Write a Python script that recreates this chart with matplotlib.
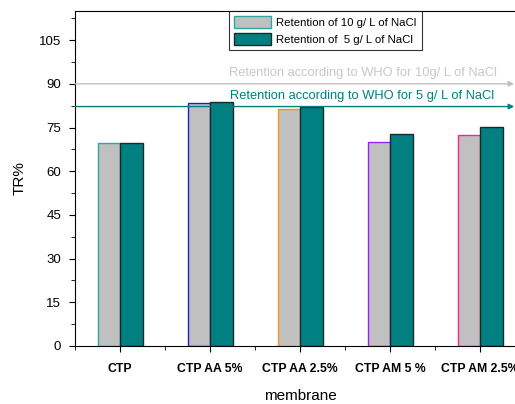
import numpy as np
import matplotlib.pyplot as plt

plt.rcParams['font.family'] = ['Liberation Sans', 'DejaVu Sans']

# données
membranes = ['CTP', 'CTP AA 5%', 'CTP AA 2.5%', 'CTP AM 5 %', 'CTP AM 2.5%']
tr_10 = [69.8, 83.3, 81.2, 69.9, 72.3]
tr_5 = [69.8, 83.8, 81.9, 72.7, 75.3]
edge_10 = ['#2aa8a8', '#2020c0', '#ff9020', '#9a20ff', '#ff2090']
who_10 = 90
who_5 = 82.2

fig = plt.figure(figsize=(5.15, 4.04), dpi=100)
# axes prolongé au-delà du bord droit, comme dans l'original
ax = fig.add_axes([75/515, 1 - 346/404, 450/515, 335/404])

x = np.arange(1, len(membranes) + 1)
w = 0.25
ax.bar(x - w/2, tr_10, w, color='#c0c0c0', edgecolor=edge_10, linewidth=1,
       label='Retention of 10 g/ L of NaCl')
ax.bar(x + w/2, tr_5, w, color='#008080', edgecolor='#1a2a2a', linewidth=1,
       label='Retention of  5 g/ L of NaCl')

# lignes OMS avec flèches
ax.annotate('', xy=(5.38, who_10), xytext=(0.5, who_10),
            arrowprops=dict(arrowstyle='-|>', color='#c0c0c0', lw=1,
                            mutation_scale=8, shrinkA=0, shrinkB=0),
            annotation_clip=False)
ax.annotate('', xy=(5.38, who_5), xytext=(0.5, who_5),
            arrowprops=dict(arrowstyle='-|>', color='#008080', lw=1,
                            mutation_scale=8, shrinkA=0, shrinkB=0),
            annotation_clip=False)
ax.text(2.21, 93.6, 'Retention according to WHO for 10g/ L of NaCl',
        color='#c8c8c8', fontsize=9.3, va='center', clip_on=False)
ax.text(2.22, 85.8, 'Retention according to WHO for 5 g/ L of NaCl',
        color='#008080', fontsize=9.3, va='center', clip_on=False)

ax.set_xlim(0.5, 5.5)
ax.set_ylim(0, 115)
ax.set_xticks(x)
ax.set_xticklabels(membranes, fontsize=8.8, fontweight='bold')
ax.set_xticks(np.arange(0.5, 6, 1), minor=True)
ax.set_yticks(np.arange(0, 106, 15))
ax.set_yticks(np.arange(7.5, 115, 15), minor=True)
ax.tick_params(axis='y', labelsize=9.5, pad=6)
ax.tick_params(which='major', length=4, direction='out')
ax.tick_params(which='minor', length=3, direction='out')
ax.tick_params(axis='x', pad=8)
ax.spines['right'].set_visible(False)

ax.set_ylabel('TR%', fontsize=11, labelpad=9)
ax.set_xlabel('membrane', fontsize=11, labelpad=10)

leg = ax.legend(loc='upper left', bbox_to_anchor=(154/450, 1.0), fontsize=8.2,
                frameon=True, fancybox=False, edgecolor='black',
                borderaxespad=0, handlelength=3.2, handleheight=1.2,
                labelspacing=0.5, borderpad=0.45, handletextpad=0.5)
leg.get_frame().set_linewidth(0.8)

fig.savefig('out.png', dpi=100)
